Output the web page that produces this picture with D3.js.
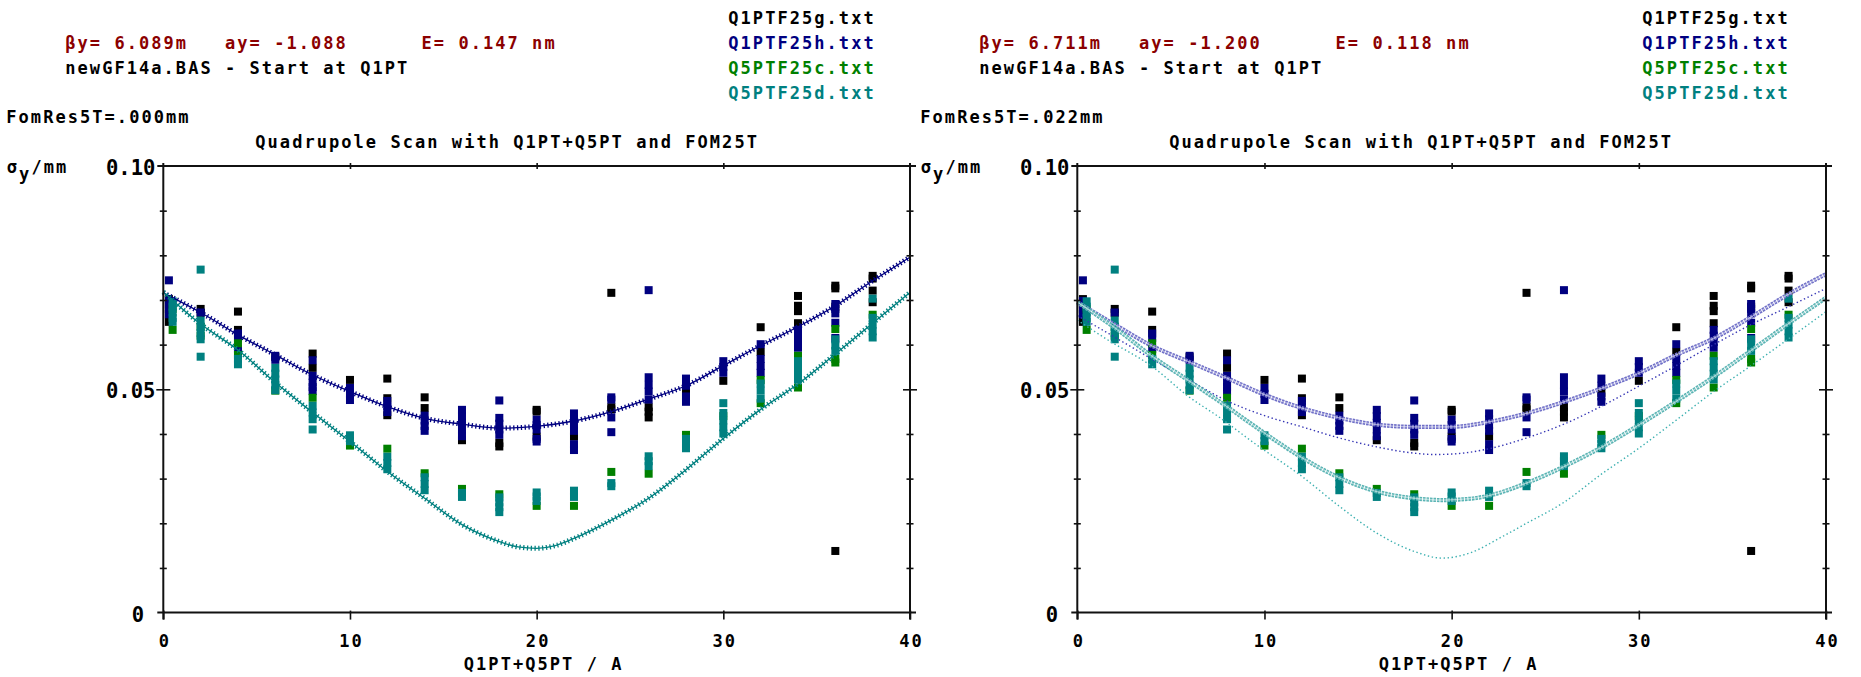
<!DOCTYPE html>
<html>
<head>
<meta charset="utf-8">
<script src="https://cdn.jsdelivr.net/npm/d3@7"></script>
<style>
  html, body { margin: 0; padding: 0; background: #fff; }
  svg { display: block; }
  text { font-family: "DejaVu Sans Mono", "Liberation Mono", monospace; font-weight: bold; white-space: pre; }
  .lbl { font-size: 17px; letter-spacing: 2.05px; }
  .ytk { font-size: 20.5px; letter-spacing: 0px; }
</style>
</head>
<body>
<svg id="chart" width="1861" height="677"></svg>
<script>
// ---- measured beam sizes: [current / A, [sigma_y / mm, ...]] ----
const seriesG = [
  [0.3, [0.0702, 0.0685, 0.0668, 0.0651]],
  [2, [0.0680, 0.0671]],
  [4, [0.0674, 0.0633]],
  [6, [0.0572]],
  [8, [0.0580, 0.0548]],
  [10, [0.0521]],
  [12, [0.0524, 0.0480, 0.0442]],
  [14, [0.0482, 0.0458]],
  [16, [0.0386]],
  [18, [0.0380, 0.0372]],
  [20, [0.0454, 0.0450, 0.0394]],
  [22, [0.0394]],
  [24, [0.0716, 0.0460, 0.0455]],
  [26, [0.0460, 0.0450, 0.0437]],
  [28, [0.0492]],
  [30, [0.0519]],
  [32, [0.0639, 0.0584]],
  [34, [0.0709, 0.0687, 0.0675, 0.0648]],
  [36, [0.0732, 0.0726, 0.0685, 0.0138]],
  [38, [0.0754, 0.0748, 0.0721, 0.0695]]
];
const seriesH = [
  [0.3, [0.0744, 0.0698, 0.0690, 0.0680, 0.0668]],
  [2, [0.0672]],
  [4, [0.0625, 0.0615, 0.0590]],
  [6, [0.0575, 0.0566]],
  [8, [0.0565, 0.0530, 0.0515, 0.0505, 0.0496]],
  [10, [0.0503, 0.0490, 0.0476]],
  [12, [0.0474, 0.0462, 0.0449]],
  [14, [0.0441, 0.0430, 0.0418, 0.0407]],
  [16, [0.0454, 0.0440, 0.0425, 0.0410, 0.0395]],
  [18, [0.0475, 0.0436, 0.0423, 0.0410, 0.0398]],
  [20, [0.0432, 0.0420, 0.0410, 0.0389, 0.0383]],
  [22, [0.0446, 0.0433, 0.0420, 0.0407, 0.0377, 0.0364]],
  [24, [0.0482, 0.0477, 0.0437, 0.0404]],
  [26, [0.0722, 0.0527, 0.0510, 0.0495, 0.0477]],
  [28, [0.0524, 0.0508, 0.0484, 0.0472]],
  [30, [0.0563, 0.0550, 0.0537]],
  [32, [0.0601, 0.0568, 0.0552, 0.0537]],
  [34, [0.0633, 0.0620, 0.0606, 0.0593]],
  [36, [0.0691, 0.0680, 0.0670, 0.0649, 0.0615]]
];
const seriesC = [
  [0.5, [0.0680, 0.0633]],
  [2, [0.0640, 0.0620]],
  [4, [0.0603, 0.0577]],
  [6, [0.0497]],
  [8, [0.0481]],
  [10, [0.0374]],
  [12, [0.0367]],
  [14, [0.0312]],
  [16, [0.0277]],
  [18, [0.0265]],
  [20, [0.0239]],
  [22, [0.0239]],
  [24, [0.0315]],
  [26, [0.0311]],
  [28, [0.0398]],
  [30, [0.0440]],
  [32, [0.0521, 0.0469]],
  [34, [0.0575, 0.0504]],
  [36, [0.0635, 0.0568, 0.0560]],
  [38, [0.0667]]
];
const seriesD = [
  [0.5, [0.0697, 0.0685, 0.0672, 0.0660, 0.0651]],
  [2, [0.0768, 0.0654, 0.0640, 0.0626, 0.0612, 0.0573]],
  [4, [0.0568, 0.0556]],
  [6, [0.0548, 0.0535, 0.0522, 0.0510, 0.0498]],
  [8, [0.0463, 0.0448, 0.0433, 0.0410]],
  [10, [0.0397, 0.0384]],
  [12, [0.0349, 0.0335, 0.0321]],
  [14, [0.0303, 0.0288, 0.0274]],
  [16, [0.0268, 0.0259]],
  [18, [0.0258, 0.0247, 0.0236, 0.0225]],
  [20, [0.0269, 0.0260, 0.0250]],
  [22, [0.0273, 0.0259]],
  [24, [0.0290, 0.0283]],
  [26, [0.0350, 0.0339, 0.0328]],
  [28, [0.0389, 0.0378, 0.0368]],
  [30, [0.0469, 0.0447, 0.0430, 0.0415, 0.0401]],
  [32, [0.0513, 0.0497, 0.0479]],
  [34, [0.0563, 0.0549, 0.0535, 0.0522]],
  [36, [0.0612, 0.0598, 0.0586]],
  [38, [0.0703, 0.0660, 0.0645, 0.0630, 0.0616]]
];

// ---- fitted envelopes: [current / A, sigma_y / mm] ----
const fitLeftH = [[0,0.0716],[2,0.0672],[4,0.0622],[6,0.0577],[8,0.0532],[10,0.0495],[12,0.0461],[14,0.0435],[16,0.0422],[18,0.0413],[20,0.0417],[22,0.0429],[24,0.0450],[26,0.0478],[28,0.0508],[30,0.0553],[32,0.0598],[34,0.0640],[36,0.0687],[38,0.0743],[40,0.0796]];
const fitLeftD = [[0,0.0718],[2,0.0646],[4,0.0588],[6,0.0515],[8,0.0448],[10,0.0383],[12,0.0316],[14,0.0256],[16,0.0197],[18,0.0159],[19,0.0147],[20,0.0144],[21,0.0150],[22,0.0166],[24,0.0207],[26,0.0256],[28,0.0320],[30,0.0390],[32,0.0455],[34,0.0512],[36,0.0579],[38,0.0648],[40,0.0717]];
const fitRightH = [[0,0.0695],[2,0.0645],[4,0.0597],[6,0.0561],[8,0.0525],[10,0.0488],[12,0.0458],[14,0.0436],[16,0.0421],[18,0.0416],[20,0.0416],[22,0.0427],[24,0.0446],[26,0.0472],[28,0.0502],[30,0.0536],[32,0.0577],[34,0.0614],[36,0.0662],[38,0.0713],[40,0.0758]];
const fitRightHLow = [[0,0.0665],[1.5,0.0629],[3,0.0592],[5,0.0543],[6,0.0520],[8,0.0474],[10,0.0441],[12,0.0416],[14,0.0391],[16,0.0371],[18,0.0357],[19,0.0354],[20,0.0355],[22,0.0367],[24,0.0391],[26,0.0422],[28,0.0462],[30,0.0507],[32,0.0553],[34,0.0600],[36,0.0645],[38,0.0685],[40,0.0726]];
const fitRightD = [[0,0.0695],[2,0.0638],[4,0.0574],[6,0.0518],[8,0.0461],[10,0.0402],[12,0.0347],[14,0.0302],[16,0.0271],[18,0.0256],[19.5,0.0252],[21,0.0255],[22,0.0262],[24,0.0290],[26,0.0327],[28,0.0370],[30,0.0420],[32,0.0473],[34,0.0528],[36,0.0587],[38,0.0647],[40,0.0705]];
const fitRightDLow = [[0,0.0655],[1.5,0.0614],[4,0.0551],[6,0.0482],[7.5,0.0440],[9.5,0.0378],[12,0.0305],[14,0.0238],[16,0.0178],[18,0.0137],[19.5,0.0122],[21,0.0134],[22.7,0.0170],[24,0.0200],[26,0.0247],[28,0.0310],[30,0.0368],[32,0.0431],[34,0.0495],[36,0.0553],[38,0.0613],[40,0.0674]];

// ---- axis ticks and text ----
const xTicks = [0, 10, 20, 30, 40];
const xTopTicks = [10, 20, 30];
const yMinorTicks = [0.01, 0.02, 0.03, 0.04, 0.06, 0.07, 0.08, 0.09];
const yMajorTicks = [0.05];
const yTickLabels = [[0, "0"], [0.05, "0.05"], [0.10, "0.10"]];
const fileNames = ["Q1PTF25g.txt", "Q1PTF25h.txt", "Q5PTF25c.txt", "Q5PTF25d.txt"];
const twissLines = ["βy= 6.089m   ay= -1.088      E= 0.147 nm", "βy= 6.711m   ay= -1.200      E= 0.118 nm"];
const fomLines = ["FomRes5T=.000mm", "FomRes5T=.022mm"];
const latticeLine = "newGF14a.BAS - Start at Q1PT";
const titleText = "Quadrupole Scan with Q1PT+Q5PT and FOM25T";
const xTitle = "Q1PT+Q5PT / A";

// ---- styling ----
const seriesColors = ["#000000", "#000080", "#008000", "#008080"];
const textRed = "#8b0000";
const W = 1861, H = 677;
const PLOT_TOP = 166, PLOT_BOTTOM = 612.6;
const panelLayout = [
  { x0: 163.3, x1: 910.0 },
  { x0: 1077.3, x1: 1826.0 }
];
const panelFits = [
  [
    { pts: fitLeftH, kind: "cross", color: "#000080" },
    { pts: fitLeftD, kind: "cross", color: "#008080" }
  ],
  [
    { pts: fitRightHLow, kind: "dots", color: "#3434b4" },
    { pts: fitRightDLow, kind: "dots", color: "#3cb0b0" },
    { pts: fitRightH, kind: "ring", color: "#7070c8" },
    { pts: fitRightD, kind: "ring", color: "#5ab4b4" }
  ]
];

const svg = d3.select("#chart");
svg.append("rect").attr("width", W).attr("height", H).attr("fill", "#fff");

const allSeries = [seriesG, seriesH, seriesC, seriesD];

function addText(parent, x, y, str, color, cls) {
  return parent.append("text")
    .attr("x", x).attr("y", y)
    .attr("class", cls || "lbl")
    .attr("fill", color || "#000")
    .attr("xml:space", "preserve")
    .text(str);
}

function drawPanel(idx) {
  const lay = panelLayout[idx];
  const x = d3.scaleLinear().domain([0, 40]).range([lay.x0, lay.x1]);
  const y = d3.scaleLinear().domain([0, 0.1]).range([PLOT_BOTTOM, PLOT_TOP]);
  const g = svg.append("g");

  // header texts
  addText(g, lay.x0 - 98, 49, twissLines[idx], textRed);
  addText(g, lay.x0 - 98, 74, latticeLine, "#000");
  fileNames.forEach((f, i) => addText(g, lay.x0 + 565, 24 + i * 25, f, seriesColors[i]));
  addText(g, lay.x0 - 157, 123, fomLines[idx], "#000");
  addText(g, lay.x0 + 92, 148, titleText, "#000");

  // y axis title with subscript
  const yt = g.append("text").attr("class", "lbl").attr("x", lay.x0 - 156.5).attr("y", 173).attr("fill", "#000");
  yt.append("tspan").text("σ");
  yt.append("tspan").attr("dy", 7).text("y");
  yt.append("tspan").attr("dy", -7).text("/mm");

  // measured points
  allSeries.forEach((s, si) => {
    const pts = s.flatMap(([cx, vals]) => vals.map(v => [cx, v]));
    g.append("g").selectAll("rect").data(pts).join("rect")
      .attr("x", d => x(d[0]) - 4)
      .attr("y", d => y(d[1]) - 4)
      .attr("width", 8).attr("height", 8)
      .attr("fill", seriesColors[si]);
  });

  // fitted envelopes
  const line = d3.line().x(d => x(d[0])).y(d => y(d[1])).curve(d3.curveMonotoneX);
  panelFits[idx].forEach(f => {
    const d = line(f.pts);
    if (f.kind === "cross") {
      g.append("path").attr("d", d).attr("fill", "none").attr("stroke", f.color).attr("stroke-width", 1.3);
      g.append("path").attr("d", d).attr("fill", "none").attr("stroke", f.color)
        .attr("stroke-width", 5).attr("stroke-dasharray", "1.3,2.5");
    } else if (f.kind === "ring") {
      g.append("path").attr("d", d).attr("fill", "none").attr("stroke", f.color)
        .attr("stroke-width", 4.2).attr("stroke-dasharray", "2.6,0.9");
      g.append("path").attr("d", d).attr("fill", "none").attr("stroke", "#fff")
        .attr("stroke-opacity", 0.5).attr("stroke-width", 1.3);
    } else {
      g.append("path").attr("d", d).attr("fill", "none").attr("stroke", f.color)
        .attr("stroke-width", 1.4).attr("stroke-dasharray", "1.4,2.6");
    }
  });

  // frame
  const frame = g.append("g").attr("stroke", "#111").attr("stroke-width", 2);
  frame.append("line").attr("x1", lay.x0 - 6).attr("x2", lay.x1 + 6).attr("y1", PLOT_TOP).attr("y2", PLOT_TOP);
  frame.append("line").attr("x1", lay.x0 - 6).attr("x2", lay.x1 + 6).attr("y1", PLOT_BOTTOM).attr("y2", PLOT_BOTTOM);
  frame.append("line").attr("x1", lay.x0).attr("x2", lay.x0).attr("y1", PLOT_TOP - 3).attr("y2", PLOT_BOTTOM + 7);
  frame.append("line").attr("x1", lay.x1).attr("x2", lay.x1).attr("y1", PLOT_TOP - 3).attr("y2", PLOT_BOTTOM + 7);

  // bottom axis with labels
  const bottom = g.append("g").attr("transform", `translate(0,${PLOT_BOTTOM})`)
    .call(d3.axisBottom(x).tickValues(xTicks).tickSizeInner(7).tickSizeOuter(0).tickPadding(15).tickFormat(d3.format("d")));
  bottom.select(".domain").remove();
  bottom.selectAll(".tick line").attr("y1", -2).attr("stroke", "#111").attr("stroke-width", 1.6);
  bottom.selectAll(".tick text").attr("class", "lbl").attr("fill", "#000").attr("dx", 1);

  // top axis ticks
  const top = g.append("g").attr("transform", `translate(0,${PLOT_TOP})`)
    .call(d3.axisTop(x).tickValues(xTopTicks).tickSize(3).tickFormat(""));
  top.select(".domain").remove();
  top.selectAll(".tick line").attr("y1", 3).attr("stroke", "#111").attr("stroke-width", 1.6);

  // left and right tick marks
  [[d3.axisLeft, lay.x0], [d3.axisRight, lay.x1]].forEach(([axisFn, ax]) => {
    [[yMinorTicks, 3.5], [yMajorTicks, 7]].forEach(([vals, len]) => {
      const a = g.append("g").attr("transform", `translate(${ax},0)`)
        .call(axisFn(y).tickValues(vals).tickSize(len).tickFormat(""));
      a.select(".domain").remove();
      a.selectAll(".tick line").attr("x1", axisFn === d3.axisLeft ? len : -len)
        .attr("stroke", "#111").attr("stroke-width", 1.6);
    });
  });

  // y tick labels
  yTickLabels.forEach(([v, s]) => {
    addText(g, lay.x0 - (s.length > 1 ? 57.3 : 31.5), y(v) + 9, s, "#000", "ytk");
  });

  // x axis title
  g.append("text").attr("class", "lbl").attr("fill", "#000")
    .attr("x", (lay.x0 + lay.x1) / 2 + 7).attr("y", 670)
    .attr("text-anchor", "middle").text(xTitle);
}

drawPanel(0);
drawPanel(1);
</script>
</body>
</html>
